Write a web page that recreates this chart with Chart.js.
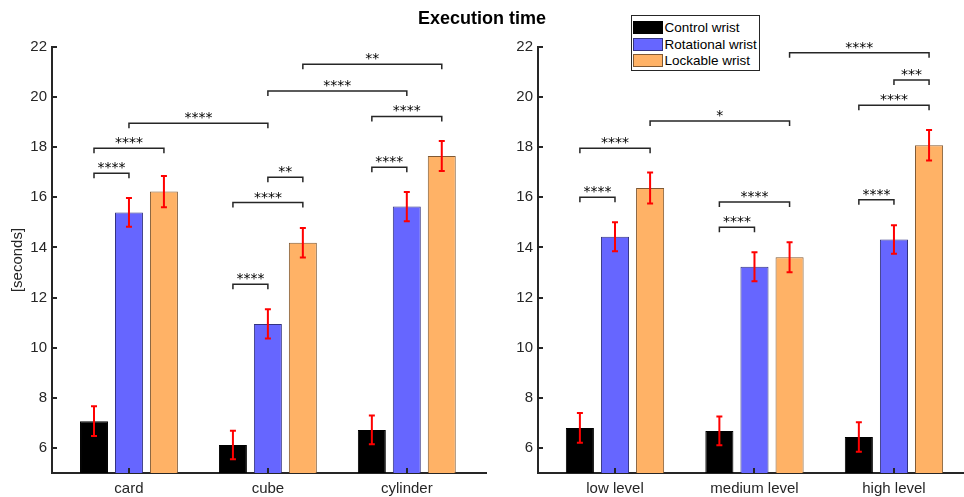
<!DOCTYPE html>
<html>
<head>
<meta charset="utf-8">
<script src="https://cdn.jsdelivr.net/npm/chart.js@4.4.1/dist/chart.umd.min.js"></script>
<style>
  body { margin: 0; background: #fff; font-family: "Liberation Sans", Arial, sans-serif; }
  #wrap { position: relative; width: 964px; height: 497px; overflow: hidden; }
  #objCanvas { position: absolute; left: 0; top: 0; }
  #lvlCanvas { position: absolute; left: 486px; top: 0; }
  #title {
    position: absolute; left: 0; top: 8px; width: 964px; text-align: center;
    font-weight: bold; font-size: 18px; line-height: 20px; color: #000;
  }
  #legend {
    position: absolute; left: 631px; top: 15px; width: 129px; height: 56px;
    box-sizing: border-box; border: 1.5px solid #262626; background: #fff;
    padding-top: 3px; white-space: nowrap;
  }
  .row { display: flex; align-items: center; height: 16.7px; font-size: 13.5px; color: #000; }
  .sw { box-sizing: border-box; width: 30px; height: 13px; margin: 0 2px 0 0.5px; border: 1px solid; flex: none; }
</style>
</head>
<body>
<div id="wrap">
  <canvas id="objCanvas" width="500" height="497"></canvas>
  <canvas id="lvlCanvas" width="478" height="497"></canvas>
  <div id="title">Execution time</div>
  <div id="legend"></div>
</div>
<script>
// series names and colours
const wrists = ["Control wrist", "Rotational wrist", "Lockable wrist"];
const fills = ["#000000", "#6666ff", "#ffb266"];
const edges = ["#000000", "#333380", "#805933"];

// left panel: objects
const objects = ["card", "cube", "cylinder"];
const objControl = [7.07, 6.12, 6.72];
const objRotational = [15.40, 10.95, 15.63];
const objLockable = [16.23, 14.19, 17.65];
const objControlErr = [0.59, 0.57, 0.57];
const objRotationalErr = [0.57, 0.58, 0.58];
const objLockableErr = [0.62, 0.59, 0.60];
// [group A, wrist A, group B, wrist B, level, label]
const objBrackets = [
  [0, 0, 0, 1, 16.96, "****"],
  [0, 0, 0, 2, 17.96, "****"],
  [0, 1, 1, 1, 18.96, "****"],
  [1, 0, 1, 1, 12.53, "****"],
  [1, 0, 1, 2, 15.79, "****"],
  [1, 1, 1, 2, 16.80, "**"],
  [1, 1, 2, 1, 20.24, "****"],
  [1, 2, 2, 2, 21.31, "**"],
  [2, 0, 2, 1, 17.20, "****"],
  [2, 0, 2, 2, 19.23, "****"],
];

// right panel: levels
const levels = ["low level", "medium level", "high level"];
const lvlControl = [6.80, 6.68, 6.44];
const lvlRotational = [14.43, 13.23, 14.32];
const lvlLockable = [16.37, 13.61, 18.08];
const lvlControlErr = [0.59, 0.57, 0.59];
const lvlRotationalErr = [0.58, 0.58, 0.57];
const lvlLockableErr = [0.62, 0.60, 0.61];
const lvlBrackets = [
  [0, 0, 0, 1, 16.00, "****"],
  [0, 0, 0, 2, 17.96, "****"],
  [0, 2, 1, 2, 19.05, "*"],
  [1, 0, 1, 1, 14.81, "****"],
  [1, 0, 1, 2, 15.81, "****"],
  [2, 0, 2, 1, 15.90, "****"],
  [2, 0, 2, 2, 19.68, "****"],
  [2, 1, 2, 2, 20.68, "***"],
  [1, 2, 2, 2, 21.77, "****"],
];

const yTicks = [6, 8, 10, 12, 14, 16, 18, 20, 22];
const ink = "#262626";

Chart.defaults.font.family = "'Liberation Sans', Arial, sans-serif";

// error bars, inward ticks and significance brackets
const decor = {
  id: "decor",
  afterDatasetsDraw(chart, args, opts) {
    const { ctx, chartArea } = chart;
    const x = chart.scales.x;
    const y = chart.scales.y;
    ctx.save();

    // red error bars
    ctx.strokeStyle = "#ff0000";
    ctx.lineWidth = 2;
    chart.data.datasets.forEach((ds, di) => {
      chart.getDatasetMeta(di).data.forEach((bar, i) => {
        const v = ds.data[i].y;
        const top = y.getPixelForValue(v + ds.err[i]);
        const bot = y.getPixelForValue(v - ds.err[i]);
        ctx.beginPath();
        ctx.moveTo(bar.x, top);
        ctx.lineTo(bar.x, bot);
        ctx.moveTo(bar.x - 3, top);
        ctx.lineTo(bar.x + 3, top);
        ctx.moveTo(bar.x - 3, bot);
        ctx.lineTo(bar.x + 3, bot);
        ctx.stroke();
      });
    });

    // ticks pointing into the axes
    ctx.strokeStyle = ink;
    ctx.lineWidth = 2;
    ctx.beginPath();
    yTicks.forEach((t) => {
      const py = Math.round(y.getPixelForValue(t));
      ctx.moveTo(chartArea.left, py);
      ctx.lineTo(chartArea.left + 5, py);
    });
    x.ticks.forEach((t) => {
      const px = Math.round(x.getPixelForValue(t.value));
      ctx.moveTo(px, chartArea.bottom);
      ctx.lineTo(px, chartArea.bottom - 5);
    });
    ctx.stroke();

    // brackets
    ctx.lineWidth = 1.5;
    ctx.fillStyle = "#000";
    ctx.font = "14px 'DejaVu Sans', sans-serif";
    ctx.textAlign = "center";
    ctx.textBaseline = "alphabetic";
    opts.brackets.forEach(([g1, w1, g2, w2, level, label]) => {
      const x1 = chart.getDatasetMeta(w1).data[g1].x;
      const x2 = chart.getDatasetMeta(w2).data[g2].x;
      const py = y.getPixelForValue(level);
      ctx.beginPath();
      ctx.moveTo(x1, py + 5);
      ctx.lineTo(x1, py);
      ctx.lineTo(x2, py);
      ctx.lineTo(x2, py + 5);
      ctx.stroke();
      ctx.fillText(label, (x1 + x2) / 2, py - 1);
    });
    ctx.restore();
  },
};

function makePanel(id, groups, series, errs, brackets, xMin, xMax, yTitle, padRight) {
  const ctx = document.getElementById(id).getContext("2d");
  return new Chart(ctx, {
    type: "bar",
    data: {
      datasets: series.map((vals, s) => ({
        label: wrists[s],
        data: vals.map((v, i) => ({ x: i + 1, y: v })),
        err: errs[s],
        backgroundColor: fills[s],
        borderColor: edges[s],
        borderWidth: 1,
        categoryPercentage: 0.755,
        barPercentage: 0.8,
      })),
    },
    options: {
      responsive: false,
      animation: false,
      layout: { padding: { top: 47, right: padRight, left: 0, bottom: 0 } },
      plugins: {
        legend: { display: false },
        tooltip: { enabled: false },
        decor: { brackets: brackets },
      },
      scales: {
        x: {
          type: "linear",
          min: xMin,
          max: xMax,
          offset: false,
          afterBuildTicks: (s) => {
            s.ticks = groups.map((_, i) => ({ value: i + 1 }));
          },
          afterFit: (s) => {
            s.height = 24;
          },
          grid: { display: false, drawTicks: false },
          border: { display: true, color: ink, width: 2 },
          ticks: {
            callback: (v) => groups[v - 1],
            color: ink,
            font: { size: 15 },
            padding: 7,
            maxRotation: 0,
            autoSkip: false,
          },
        },
        y: {
          min: 5,
          max: 22,
          afterBuildTicks: (s) => {
            s.ticks = yTicks.map((v) => ({ value: v }));
          },
          afterFit: (s) => {
            s.width = 52;
          },
          grid: { display: false, drawTicks: false },
          border: { display: true, color: ink, width: 2 },
          ticks: { color: ink, font: { size: 15 }, padding: 5 },
          title: {
            display: !!yTitle,
            text: yTitle,
            color: ink,
            font: { size: 15 },
            padding: { top: 9, bottom: 0 },
          },
        },
      },
    },
    plugins: [decor],
  });
}

makePanel(
  "objCanvas",
  objects,
  [objControl, objRotational, objLockable],
  [objControlErr, objRotationalErr, objLockableErr],
  objBrackets,
  0.446, 3.57, "[seconds]", 14
);

makePanel(
  "lvlCanvas",
  levels,
  [lvlControl, lvlRotational, lvlLockable],
  [lvlControlErr, lvlRotationalErr, lvlLockableErr],
  lvlBrackets,
  0.448, 3.495, "", 1
);

// legend box
const legend = document.getElementById("legend");
wrists.forEach((name, s) => {
  const row = document.createElement("div");
  row.className = "row";
  const sw = document.createElement("span");
  sw.className = "sw";
  sw.style.background = fills[s];
  sw.style.borderColor = edges[s];
  const txt = document.createElement("span");
  txt.textContent = name;
  row.appendChild(sw);
  row.appendChild(txt);
  legend.appendChild(row);
});
</script>
</body>
</html>
